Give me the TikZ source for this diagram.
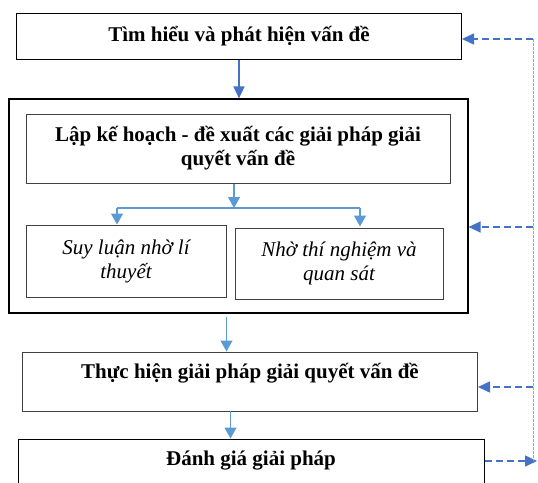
\documentclass[tikz,border=0pt]{standalone}
\usepackage{fontspec}
\setmainfont{Liberation Serif}
\usetikzlibrary{arrows.meta}
\definecolor{dblue}{HTML}{4472C4}
\definecolor{lblue}{HTML}{5B9BD5}
\definecolor{pblue}{HTML}{8FAADC}

\begin{document}
\begin{tikzpicture}[x=1pt, y=-1pt,
    box/.style={draw, line width=1pt, inner sep=0pt, align=center, font={\fontsize{21}{24}\selectfont\bfseries}},
    gbox/.style={box, draw=black!75},
    ibox/.style={gbox, font={\fontsize{21}{24}\selectfont\itshape}},
    flow/.style={lblue, line width=1.3pt, -{Triangle[length=11pt,width=12pt]}},
    down/.style={dblue, line width=1.6pt, -{Triangle[length=12pt,width=11pt]}},
    back/.style={dblue, line width=1.5pt, dash pattern=on 7pt off 4pt, -{Triangle[length=12pt,width=11pt]}}]
  \clip (0,0) rectangle (538,482);

  % main steps
  \node[box, minimum width=445pt, minimum height=46pt] (find) at (239,36) {Tìm hiểu và phát hiện vấn đề};
  \node[draw, line width=1.2pt, minimum width=459pt, minimum height=214pt] (plan) at (238.5,206) {};
  \node[gbox, minimum width=424pt, minimum height=69pt] (propose) at (238,148.5) {Lập kế hoạch - đề xuất các giải pháp giải\\quyết vấn đề};
  \node[ibox, minimum width=200pt, minimum height=72pt] (theory) at (126,261) {Suy luận nhờ lí\\thuyết};
  \node[ibox, minimum width=208pt, minimum height=71pt] (exper) at (339,263.5) {Nhờ thí nghiệm và\\quan sát};
  \node[gbox, minimum width=455pt, minimum height=59pt, text depth=22pt] (execute) at (250,381.5) {Thực hiện giải pháp giải quyết vấn đề};
  \node[box, minimum width=466pt, minimum height=70pt, text depth=32pt] (judge) at (251,474) {Đánh giá giải pháp};

  % forward arrows
  \draw[down] (find.south) -- (find.south |- plan.north);
  \coordinate (fork) at (234,208);
  \coordinate (forkl) at (117,208);
  \coordinate (forkr) at (360,208);
  \draw[flow] (fork |- propose.south) -- (fork);
  \draw[lblue, line width=1.3pt] (forkl) -- (forkr);
  \draw[flow] (forkl) -- (forkl |- theory.north);
  \draw[flow] (forkr) -- ([yshift=1pt]forkr |- exper.north);
  \coordinate (planout) at (226.5,317);
  \draw[flow] (planout) -- (planout |- execute.north);
  \coordinate (execout) at (230.5,411);
  \draw[flow] (execout) -- (execout |- judge.north);

  % feedback loop
  \coordinate (loopt) at (533,39);
  \coordinate (loopm) at (533,227);
  \coordinate (loopx) at (533,387);
  \coordinate (loopb) at (533,461);
  \coordinate (loopend) at (537,461);
  \draw[back] (loopb -| judge.east) -- (loopend);
  \draw[pblue, line width=0.9pt, dash pattern=on 2.5pt off 1.5pt] (loopt) -- (loopb);
  \draw[back] (loopt) -- (loopt -| find.east);
  \draw[back] (loopm) -- (loopm -| plan.east);
  \draw[back] (loopx) -- (loopx -| execute.east);
\end{tikzpicture}
\end{document}
